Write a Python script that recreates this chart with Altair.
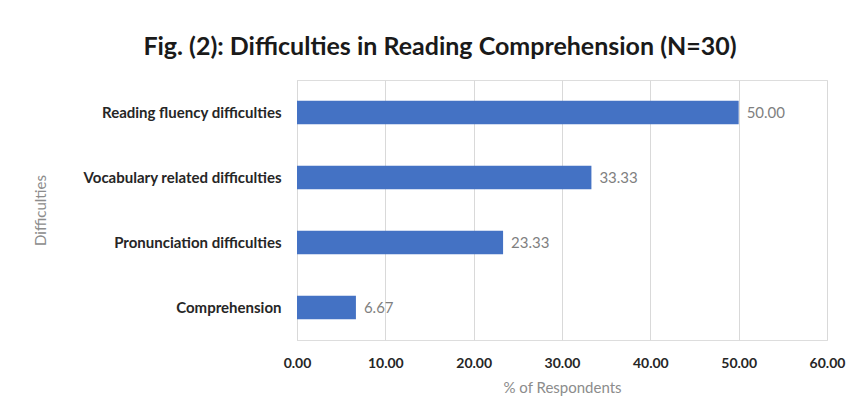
import altair as alt
import pandas as pd

categories = ["Reading fluency difficulties", "Vocabulary related difficulties",
              "Pronunciation difficulties", "Comprehension"]
values = [50.00, 33.33, 23.33, 6.67]
x_ticks = [0, 10, 20, 30, 40, 50, 60]

df = pd.DataFrame({"cat": categories, "val": values})
FONT = "Lato"

y = alt.Y("cat:N", sort=categories,
          scale=alt.Scale(paddingInner=0.64, paddingOuter=0.32),
          axis=alt.Axis(title="Difficulties", labelFont=FONT, labelFontWeight="bold",
                        labelFontSize=15, labelColor="#262626", labelPadding=16,
                        labelLimit=400,
                        ticks=False, domain=True, domainColor="#d9d9d9",
                        titleFont=FONT, titleFontWeight="normal", titleFontSize=15,
                        titleColor="#8c8c8c", titleX=-257, titleY=130,
                        titleAngle=-90, titleAlign="center", titleBaseline="middle"))
x = alt.X("val:Q", scale=alt.Scale(domain=[0, 60]),
          axis=alt.Axis(values=x_ticks, format=".2f", title="% of Respondents",
                        labelFont=FONT, labelFontWeight="bold", labelFontSize=14,
                        labelColor="#262626", labelPadding=16, labelFlush=False,
                        ticks=False, domain=False,
                        grid=True, gridColor="#d9d9d9",
                        titleFont=FONT, titleFontWeight="normal", titleFontSize=15,
                        titleColor="#8c8c8c", titlePadding=10))

bars = alt.Chart(df).mark_bar(color="#4472C4").encode(x=x, y=y)
labels = alt.Chart(df).mark_text(align="left", dx=8, font=FONT, fontSize=15,
                                 color="#7f7f7f").encode(
    x="val:Q", y=alt.Y("cat:N", sort=categories), text=alt.Text("val:Q", format=".2f"))

chart = (bars + labels).properties(
    width=530, height=260,
    title=alt.TitleParams("Fig. (2): Difficulties in Reading Comprehension (N=30)",
                          font=FONT, fontSize=25, fontWeight="bold", color="#1a1a1a",
                          dx=-122, offset=20),
    autosize=alt.AutoSizeParams(type="none"),
    padding={"left": 297, "top": 80, "right": 28, "bottom": 79},
).configure_view(stroke=None).configure(background="white")

chart.save("out.html", embed_options={"renderer": "svg", "actions": False})
